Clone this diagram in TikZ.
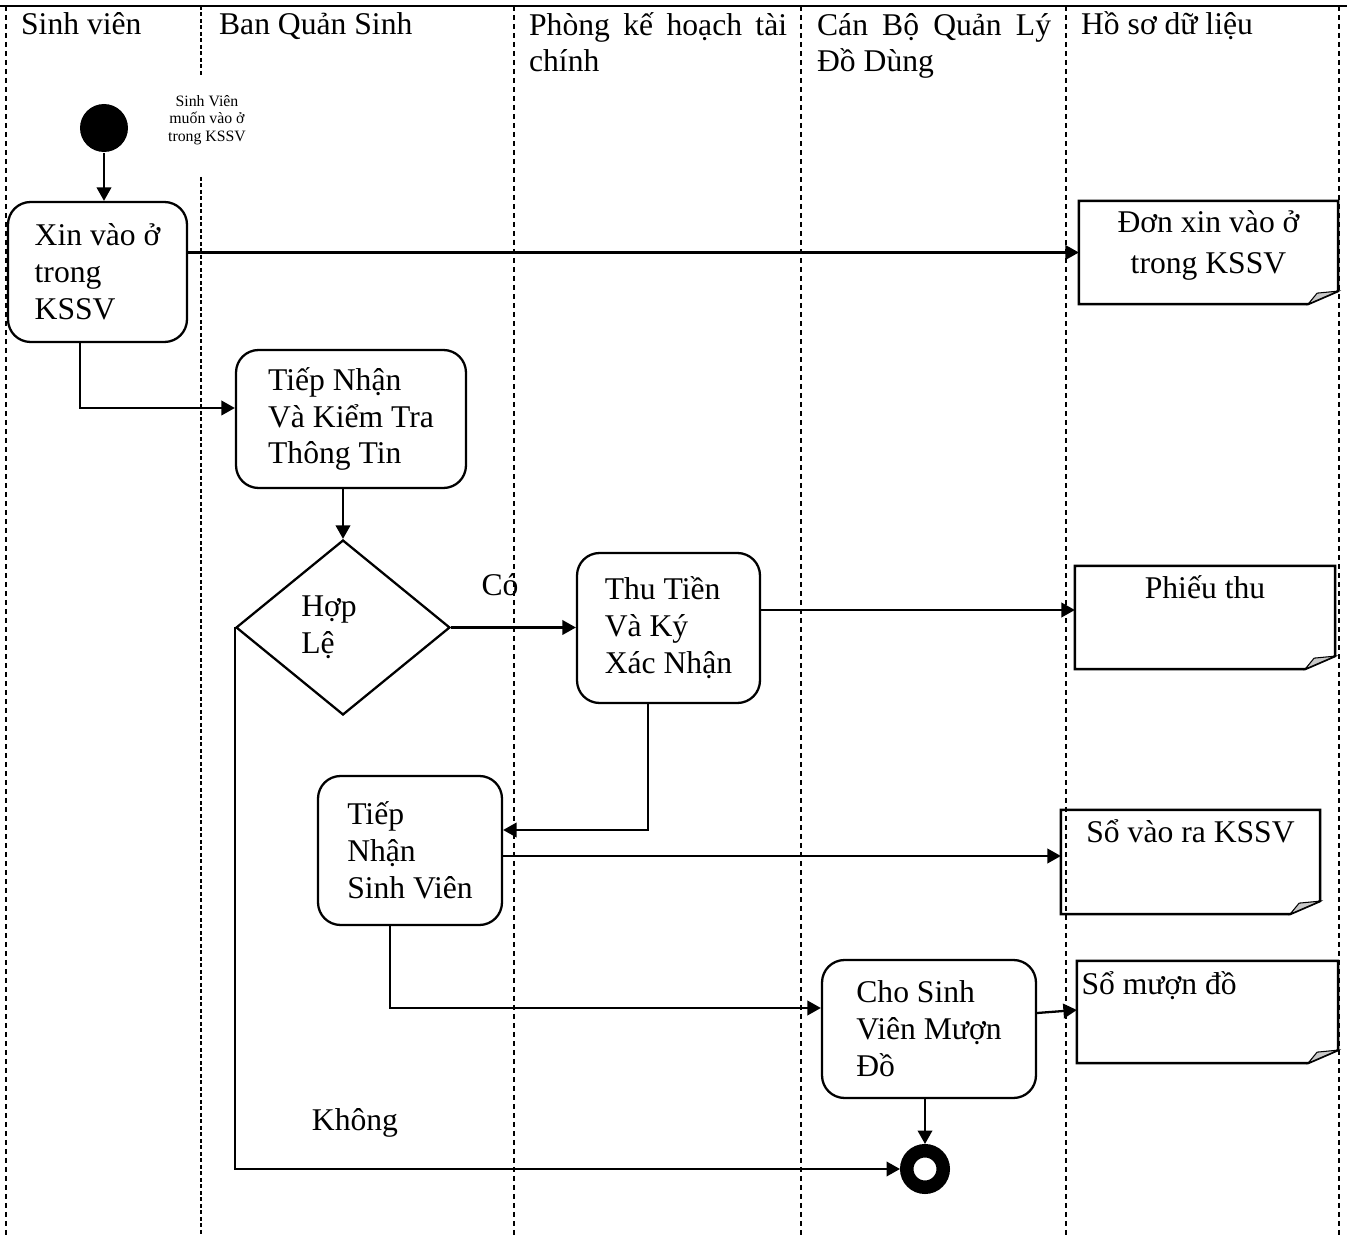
\documentclass[tikz,border=0pt]{standalone}
\usepackage{fontspec}
\setmainfont{Liberation Serif}
\usetikzlibrary{arrows.meta, positioning, shapes.geometric, calc}
\definecolor{foldgray}{HTML}{C8C8C8}

\begin{document}
\begin{tikzpicture}[x=0.02cm, y=-0.02cm, >={Triangle[length=0.27cm, width=0.29cm]},
  font=\fontsize{18}{21}\selectfont, line width=1.3pt,
  buoc/.style={draw, rounded corners=0.45cm, align=left, inner sep=0pt},
  hoso/.style={inner sep=0pt},
  tieude/.style={anchor=base west, inner sep=0pt, align=left},
  lane/.style={line width=0.8pt, dash pattern=on 0.1cm off 0.08cm}]
  \useasboundingbox (0,0) rectangle (1347,1236);

  % Làn
  \draw[line width=1.5pt] (0,6) -- (1347,6);
  \foreach \x in {6,514,801,1066,1339}
    \draw[lane] (\x,6) -- (\x,1236);
  \draw[lane, line width=1.4pt, dash pattern=on 0.08cm off 0.05cm] (201,6) -- (201,75) (201,177) -- (201,1236);

  % Tiêu đề làn (base = dòng cuối)
  \node[tieude] (lSV) at (20,35) {Sinh viên};
  \node[tieude] (lBQS) at (218,35) {Ban Quản Sinh};
  \node[tieude] (lPKH) at (528,72) {\makebox[5.16cm][s]{Phòng kế hoạch tài}\\chính};
  \node[tieude] (lCB) at (816,72) {\makebox[4.68cm][s]{Cán Bộ Quản Lý}\\Đồ Dùng};
  \node[tieude] (lHS) at (1080,35) {Hồ sơ dữ liệu};

  % Bước
  \node[circle, fill=black, minimum size=0.96cm, inner sep=0pt] (bd) at (104,128) {};
  \node[align=center, font=\fontsize{9}{10}\selectfont] (ghichu) at (207,120) {Sinh Viên\\muốn vào ở\\trong KSSV};
  \node[buoc, minimum width=3.58cm, minimum height=2.8cm] (xin) at (97.5,272) {Xin vào ở\\trong\\KSSV};
  \node[buoc, minimum width=4.6cm, minimum height=2.76cm] (tiepnhan) at (351,419) {Tiếp Nhận\\Và Kiểm Tra\\Thông Tin};
  \node[draw, diamond, minimum width=4.28cm, minimum height=3.5cm, inner sep=0pt, align=left] (hople) at (343,627.5) {Hợp\\Lệ\hspace*{1cm}};
  \node[buoc, minimum width=3.66cm, minimum height=3cm] (thutien) at (668.5,628) {Thu Tiền\\Và Ký\\Xác Nhận};
  \node[buoc, minimum width=3.68cm, minimum height=2.98cm] (nhansv) at (410,850.5) {Tiếp\\Nhận\\Sinh Viên};
  \node[buoc, minimum width=4.28cm, minimum height=2.76cm] (muondo) at (929,1029) {Cho Sinh\\Viên Mượn\\Đồ};
  \node[circle, draw, line width=0.27cm, minimum size=0.73cm, inner sep=0pt] (kt) at (925,1169) {};

  % Hồ sơ
  \node[hoso, minimum width=5.14cm, minimum height=2.02cm,
    label={[anchor=north, align=center, inner sep=2pt, yshift=-0.1cm]north:Đơn xin vào ở\\[0.08cm]trong KSSV}] (don) at (1208.5,252.5) {};
  \node[hoso, minimum width=5.16cm, minimum height=2.02cm,
    label={[anchor=north, inner sep=2pt, yshift=-0.1cm]north:Phiếu thu}] (phieu) at (1205,617.5) {};
  \node[hoso, minimum width=5.14cm, minimum height=2.04cm,
    label={[anchor=north, inner sep=2pt, yshift=-0.1cm]north:Sổ vào ra KSSV}] (sovao) at (1190.5,862) {};
  \node[hoso, minimum width=5.18cm, minimum height=2cm,
    label={[anchor=north west, inner sep=2pt, yshift=-0.12cm]north west:Sổ mượn đồ}] (somuon) at (1207.5,1012) {};
  \foreach \d in {don,phieu,sovao,somuon} {
    \draw (\d.north west) -- (\d.north east) -- ($(\d.south east)+(0,-13)$)
      -- ($(\d.south east)+(-30,0)$) -- (\d.south west) -- cycle;
    \draw[fill=foldgray, line width=0.6pt] ($(\d.south east)+(-30,0)$)
      -- ($(\d.south east)+(-21,-11)$) -- ($(\d.south east)+(0,-13)$) -- cycle;
  }

  % Nhãn
  \node (co) at (500,585) {Có};
  \node (khong) at (355,1123) {Không};

  % Nối
  \coordinate (raThu) at ($(thutien.east)+(0,-18)$);
  \coordinate (raNhan) at ($(nhansv.east)+(0,5.5)$);
  \draw[->] (bd) -- (bd |- xin.north);
  \draw[->] (xin.east |- don.west) -- (don.west);
  \draw[->] ($(xin.south)+(-17.5,0)$) |- ($(tiepnhan.west)+(0,-11)$);
  \draw[->] (hople.north |- tiepnhan.south) -- (hople.north);
  \draw[->] (hople.east) -- (hople.east -| thutien.west);
  \draw[->] (raThu) -- (raThu -| phieu.west);
  \draw[->] ($(thutien.south)+(-20.5,0)$) |- ($(nhansv.east)+(0,-20.5)$);
  \draw[->] (raNhan) -- (raNhan -| sovao.west);
  \draw[->] ($(nhansv.south)+(-20,0)$) |- ($(muondo.west)+(0,-21)$);
  \draw[->] ($(muondo.east)+(0,-16)$) -- ($(somuon.west)+(0,-2)$);
  \draw[->] (kt |- muondo.south) -- (kt);
  \draw[->] (hople.west) |- (kt.west);
\end{tikzpicture}
\end{document}
